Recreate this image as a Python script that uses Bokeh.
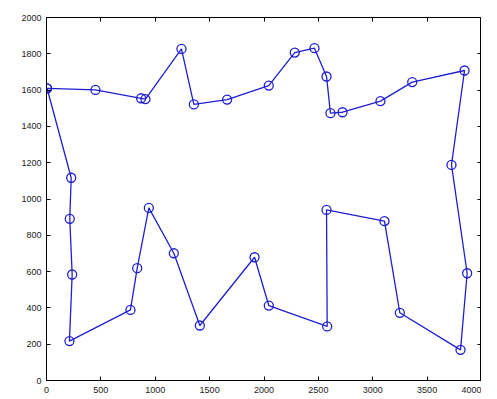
from bokeh.plotting import figure
from bokeh.models import LinearAxis, FixedTicker, Range1d, CustomJSTickFormatter
from bokeh.embed import file_html
from bokeh.resources import INLINE

# tour (closed path) coordinates
tour_x = [5, 450, 870, 910, 1241, 1355, 1661, 2044, 2283, 2464, 2575, 2611, 2722,
          3071, 3363, 3844, 3724, 3868, 3807, 3249, 3108, 2575, 2581, 2044, 1913,
          1410, 1171, 941, 834, 772, 211, 236, 214, 227, 5]
tour_y = [1610, 1601, 1555, 1550, 1827, 1521, 1548, 1625, 1807, 1831, 1675, 1473, 1478,
          1539, 1644, 1708, 1188, 591, 169, 373, 878, 940, 298, 413, 679,
          303, 701, 951, 619, 389, 217, 584, 891, 1117, 1610]

x_ticks = [0, 500, 1000, 1500, 2000, 2500, 3000, 3500, 4000]
y_ticks = [0, 200, 400, 600, 800, 1000, 1200, 1400, 1600, 1800, 2000]

BLUE = "#1f1fd0"

p = figure(frame_width=435, frame_height=363, output_backend="svg", toolbar_location=None,
           x_range=Range1d(0, 4000), y_range=Range1d(0, 2000),
           min_border_left=46, min_border_right=0, min_border_top=17, min_border_bottom=0,
           x_axis_location=None, y_axis_location=None)
p.xgrid.visible = False
p.ygrid.visible = False
p.outline_line_color = "black"
p.outline_line_width = 1
p.background_fill_color = "white"
p.border_fill_color = "white"

def style(ax, ticks, labels=True, standoff=4):
    ax.ticker = FixedTicker(ticks=ticks)
    ax.major_tick_in = 4
    ax.major_tick_out = 0
    ax.minor_tick_line_color = None
    ax.axis_line_color = "black"
    ax.major_tick_line_color = "black"
    if labels:
        ax.major_label_text_font = "Liberation Sans"
        ax.major_label_text_font_size = "9px"
        ax.major_label_text_color = "#222222"
        ax.major_label_standoff = standoff
    else:
        ax.formatter = CustomJSTickFormatter(code="return '';")
        ax.major_label_text_font_size = "0px"
        ax.major_label_standoff = 0

bx = LinearAxis(); style(bx, x_ticks, standoff=6); p.add_layout(bx, "below")
ly = LinearAxis(); style(ly, y_ticks, standoff=5); p.add_layout(ly, "left")
tx = LinearAxis(); style(tx, x_ticks, False); p.add_layout(tx, "above")
ry = LinearAxis(); style(ry, y_ticks, False); p.add_layout(ry, "right")

p.line(tour_x, tour_y, line_color=BLUE, line_width=1.3)
p.scatter(tour_x, tour_y, marker="circle", size=9, fill_color=None,
          line_color=BLUE, line_width=1.3)

open("out.html", "w").write(file_html(p, INLINE))
